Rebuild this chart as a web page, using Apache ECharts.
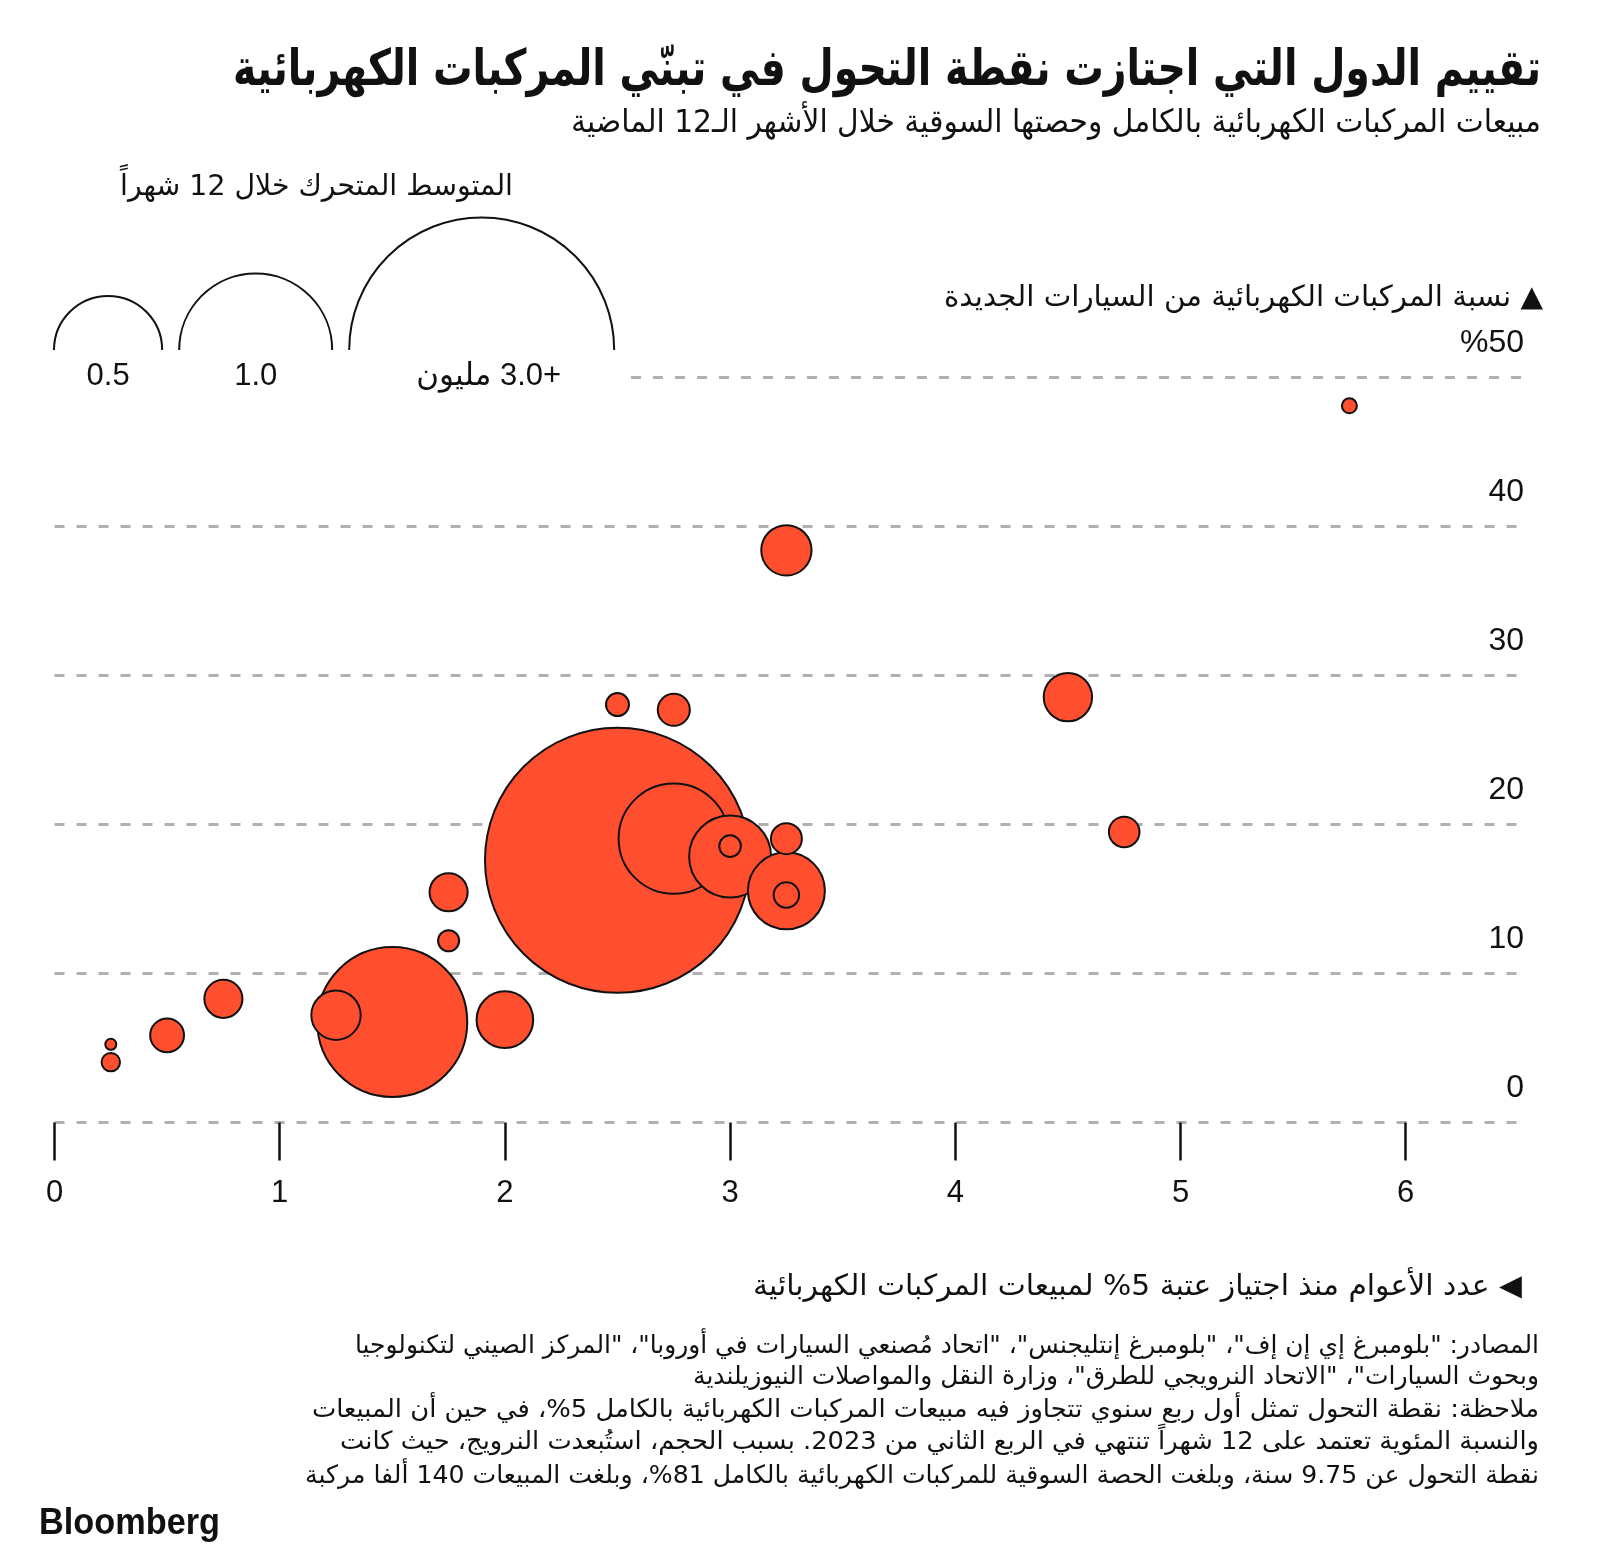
<!DOCTYPE html>
<html>
<head>
<meta charset="utf-8">
<script src="https://cdn.jsdelivr.net/npm/echarts@6/dist/echarts.min.js"></script>
<style>
html,body{margin:0;padding:0;background:#ffffff;}
#c{width:1600px;height:1564px;}
</style>
</head>
<body>
<div id="c" dir="rtl"></div>
<script>
// ---------------- DATA ----------------
const yearsSinceTip = [5.75, 3.25, 4.5, 2.5, 2.75, 2.5, 2.75, 3.0, 3.0, 3.25, 3.25, 3.25, 4.75, 1.75, 1.75, 1.5, 1.25, 2.0, 0.75, 0.5, 0.25, 0.25];
const evShare = [48.1, 38.4, 28.55, 28.05, 27.7, 17.6, 19.05, 17.85, 18.55, 19.05, 15.55, 15.27, 19.5, 15.45, 12.2, 6.75, 7.2, 6.9, 8.3, 5.85, 5.25, 4.05];
const salesMillions = [0.0096, 0.108, 0.10, 0.0226, 0.044, 3.0, 0.52, 0.287, 0.020, 0.041, 0.253, 0.0276, 0.040, 0.062, 0.019, 0.96, 0.104, 0.137, 0.062, 0.049, 0.0052, 0.0145];

const xTicks = [0, 1, 2, 3, 4, 5, 6];
const yTicks = [0, 10, 20, 30, 40, 50];
const yTickLabels = ['0', '10', '20', '30', '40', '%50'];
const legendValues = [0.5, 1.0, 3.0];
const legendLabels = ['0.5', '1.0', '+3.0 مليون'];

const titleText = 'تقييم الدول التي اجتازت نقطة التحول في تبنّي المركبات الكهربائية';
const subtitleText = 'مبيعات المركبات الكهربائية بالكامل وحصتها السوقية خلال الأشهر الـ12 الماضية';
const legendTitleText = 'المتوسط المتحرك خلال 12 شهراً';
const yTitleText = '▲ نسبة المركبات الكهربائية من السيارات الجديدة';
const xTitleText = '◀ عدد الأعوام منذ اجتياز عتبة 5% لمبيعات المركبات الكهربائية';
const noteLines = [
  'المصادر: "بلومبرغ إي إن إف"، "بلومبرغ إنتليجنس"، "اتحاد مُصنعي السيارات في أوروبا"، "المركز الصيني لتكنولوجيا',
  'وبحوث السيارات"، "الاتحاد النرويجي للطرق"، وزارة النقل والمواصلات النيوزيلندية',
  'ملاحظة: نقطة التحول تمثل أول ربع سنوي تتجاوز فيه مبيعات المركبات الكهربائية بالكامل 5%، في حين أن المبيعات',
  'والنسبة المئوية تعتمد على 12 شهراً تنتهي في الربع الثاني من 2023. بسبب الحجم، استُبعدت النرويج، حيث كانت',
  'نقطة التحول عن 9.75 سنة، وبلغت الحصة السوقية للمركبات الكهربائية بالكامل 81%، وبلغت المبيعات 140 ألفا مركبة'
];
const brandText = 'Bloomberg';

// ---------------- STYLE / LAYOUT ----------------
const AR_FONT = "'DejaVu Sans', sans-serif";
const NUM_FONT = "'Liberation Sans', 'DejaVu Sans', sans-serif";
const INK = '#111111';
const BUBBLE = '#ff4f2e';
const GRID_COLOR = '#b0b0b0';
const K = 76.5;                 // bubble radius in px per sqrt(million sales)
const radiusOf = v => K * Math.sqrt(v);

const GRID_LEFT = 54.5, GRID_RIGHT_PX = 1521, GRID_TOP = 377.5, GRID_BOTTOM_PX = 1122.5;
const X_UNIT_PX = 225.2;
const X_MAX = (GRID_RIGHT_PX - GRID_LEFT) / X_UNIT_PX;
const LINE50_START = (631 - GRID_LEFT) / X_UNIT_PX;

const mctx = document.createElement('canvas').getContext('2d');
try { mctx.direction = 'rtl'; } catch (e) {}
function textEl(text, o) {
  const font = (o.weight || 'normal') + ' ' + o.size + 'px ' + (o.family || AR_FONT);
  let sx = 1;
  if (o.width) { mctx.font = font; sx = o.width / mctx.measureText(text).width; }
  return {
    type: 'text', x: o.x, y: o.y, scaleX: sx, silent: true,
    style: { text: text, font: font, fill: o.color || INK,
      textAlign: o.align || 'right', align: o.align || 'right',
      textVerticalAlign: 'middle', verticalAlign: 'middle' }
  };
}

const points = yearsSinceTip.map((x, i) => [x, evShare[i], salesMillions[i]])
  .sort((a, b) => b[2] - a[2]);

// legend arcs
const graphics = [];
const LEG_BASE_Y = 350;
let legX = 54;
legendValues.forEach((v, i) => {
  const r = radiusOf(v);
  const cx = legX + r;
  graphics.push({ type: 'arc', silent: true,
    shape: { cx: cx, cy: LEG_BASE_Y, r: r, startAngle: Math.PI, endAngle: 2 * Math.PI },
    style: { stroke: INK, fill: 'none', lineWidth: 2 } });
  graphics.push(textEl(legendLabels[i], { x: cx + (i === 2 ? 7 : 0), y: 376, size: 31, family: NUM_FONT, align: 'center' }));
  legX = cx + r + 17;
});

graphics.push(textEl(titleText, { x: 1541, y: 72, size: 50, weight: 'bold', width: 1308 }));
graphics.push(textEl(subtitleText, { x: 1541, y: 124, size: 32, width: 970 }));
graphics.push(textEl(legendTitleText, { x: 316.5, y: 187, size: 29, width: 393, align: 'center' }));
graphics.push(textEl(yTitleText, { x: 1543, y: 298, size: 29, width: 599 }));
graphics.push(textEl(xTitleText, { x: 1522, y: 1287, size: 29, width: 769 }));
const noteY = [1346, 1377, 1410, 1442.5, 1476];
const noteLeft = [355, 693, 312, 340, 305];
noteLines.forEach((t, i) => {
  graphics.push(textEl(t, { x: 1539, y: noteY[i], size: 25, width: 1539 - noteLeft[i] }));
});
graphics.push(textEl(brandText, { x: 39, y: 1524, size: 36, weight: 'bold', family: NUM_FONT, width: 181, align: 'left' }));

const chart = echarts.init(document.getElementById('c'), null, { renderer: 'canvas', width: 1600, height: 1564 });
chart.setOption({
  animation: false,
  backgroundColor: '#ffffff',
  grid: { left: GRID_LEFT, right: 1600 - GRID_RIGHT_PX, top: GRID_TOP, bottom: 1564 - GRID_BOTTOM_PX, containLabel: false, outerBoundsMode: 'none' },
  xAxis: {
    type: 'value', min: 0, max: X_MAX, interval: 1,
    axisLine: { show: false },
    axisTick: { show: true, length: 38, customValues: xTicks, lineStyle: { color: INK, width: 2.5 } },
    axisLabel: { show: true, customValues: xTicks, margin: 55, fontSize: 31, lineHeight: 31, color: INK, fontFamily: NUM_FONT,
      formatter: v => String(v) },
    splitLine: { show: false }
  },
  yAxis: {
    type: 'value', min: 0, max: 50, interval: 10, position: 'right',
    axisLine: { show: false }, axisTick: { show: false },
    axisLabel: { inside: true, margin: -3, verticalAlign: 'bottom', padding: [0, 0, 18, 0], fontSize: 32, lineHeight: 32,
      color: INK, fontFamily: NUM_FONT, formatter: v => yTickLabels[yTicks.indexOf(v)] },
    splitLine: { show: true, showMaxLine: false, lineStyle: { color: GRID_COLOR, width: 3, type: [10, 12] } }
  },
  series: [{
    type: 'scatter', data: points, clip: false, silent: true,
    symbol: 'circle',
    symbolSize: d => 2 * radiusOf(d[2]),
    itemStyle: { color: BUBBLE, borderColor: INK, borderWidth: 2, opacity: 1 },
    emphasis: { disabled: true },
    markLine: {
      silent: true, symbol: 'none', label: { show: false }, animation: false,
      lineStyle: { color: GRID_COLOR, width: 3, type: [10, 12] },
      emphasis: { disabled: true },
      data: [[{ coord: [LINE50_START, 50] }, { coord: [X_MAX, 50] }]]
    }
  }],
  graphic: graphics
});
</script>
</body>
</html>
